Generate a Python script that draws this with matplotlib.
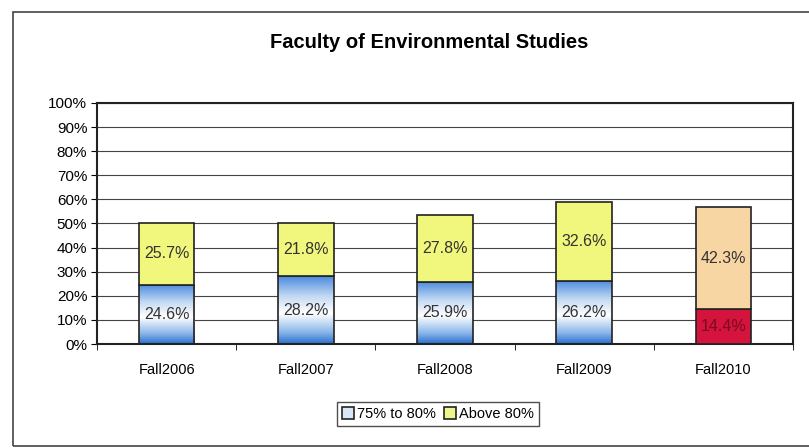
import numpy as np
import matplotlib
matplotlib.use("Agg")
import matplotlib.pyplot as plt
from matplotlib.patches import Rectangle, Patch
from matplotlib.colors import LinearSegmentedColormap

plt.rcParams['font.family'] = ['Liberation Sans', 'DejaVu Sans']

# data
terms = ['Fall2006', 'Fall2007', 'Fall2008', 'Fall2009', 'Fall2010']
pct_75_80 = [24.6, 28.2, 25.9, 26.2, 14.4]
pct_above_80 = [25.7, 21.8, 27.8, 32.6, 42.3]

fig = plt.figure(figsize=(8.09, 4.48), dpi=100)

# outer frame of the scanned chart
fig.patches.append(Rectangle((13 / 809, 2 / 448), 2, 434 / 448, transform=fig.transFigure,
                             fill=False, edgecolor='#444444', linewidth=1.2))

ax = fig.add_axes([97 / 809, 104 / 448, 696 / 809, 241 / 448])
x = np.arange(len(terms))
w = 0.40

low_colors = ['none'] * 4 + ['#d4143c']
high_colors = ['#f1f67c'] * 4 + ['#f8d6a4']

low_bars = ax.bar(x, pct_75_80, w, color=low_colors, edgecolor='#222222', linewidth=1.2, zorder=3)
high_bars = ax.bar(x, pct_above_80, w, bottom=pct_75_80, color=high_colors,
                   edgecolor='#222222', linewidth=1.2, zorder=3)

# blue gradient fill for the 75-80% segments (first four terms)
cmap = LinearSegmentedColormap.from_list(
    'bw', [(0, '#2a6fd0'), (0.18, '#8db8ea'), (0.45, '#ffffff'), (0.7, '#c4daf3'), (1, '#4a8ade')])
grad = np.linspace(0, 1, 256).reshape(-1, 1)
for i, b in enumerate(low_bars):
    if i == 4:
        continue
    x0, y0 = b.get_x(), b.get_y()
    im = ax.imshow(grad, cmap=cmap, aspect='auto', origin='lower',
                   extent=[x0, x0 + b.get_width(), y0, y0 + b.get_height()], zorder=2)
    im.set_clip_path(b)

for i in range(len(terms)):
    ax.text(x[i], pct_75_80[i] / 2, f'{pct_75_80[i]:.1f}%', ha='center', va='center',
            fontsize=11.5, color='#333333' if i < 4 else '#7a0a20', zorder=4)
    ax.text(x[i], pct_75_80[i] + pct_above_80[i] / 2, f'{pct_above_80[i]:.1f}%', ha='center',
            va='center', fontsize=11.5, color='#333333', zorder=4)

ax.set_xlim(-0.5, len(terms) - 0.5)
ax.set_ylim(0, 100)
ax.set_yticks(np.arange(0, 101, 10))
ax.set_yticklabels([f'{v}%' for v in range(0, 101, 10)], fontsize=11)
ax.set_xticks(x)
ax.set_xticklabels(terms, fontsize=10.5)
ax.set_xticks(np.arange(-0.5, len(terms), 1), minor=True)
ax.tick_params(axis='x', which='major', length=0, pad=14)
ax.tick_params(axis='x', which='minor', length=4, direction='out')
ax.tick_params(axis='y', length=4, direction='out', pad=3)
ax.yaxis.grid(True, color='#444444', linewidth=0.8, zorder=0)
ax.set_axisbelow(True)
for s in ax.spines.values():
    s.set_linewidth(1.5)
    s.set_color('#222222')

fig.text(0.531, 1 - 42 / 448, 'Faculty of Environmental Studies', ha='center', va='center',
         fontsize=14.5, fontweight='bold')

handles = [Patch(facecolor='#d6e6f7', edgecolor='#222222', linewidth=1.2),
           Patch(facecolor='#eef58a', edgecolor='#222222', linewidth=1.2)]
leg = fig.legend(handles, ['75% to 80%', 'Above 80%'], loc='center',
                 bbox_to_anchor=(438 / 809, 1 - 414 / 448), ncol=2, fontsize=10.5,
                 frameon=True, fancybox=False, handlelength=0.8, handleheight=0.8,
                 handletextpad=0.2, columnspacing=0.6, borderpad=0.35)
leg.get_frame().set_edgecolor('#222222')
leg.get_frame().set_linewidth(1.0)

fig.savefig('out.png', dpi=100)
